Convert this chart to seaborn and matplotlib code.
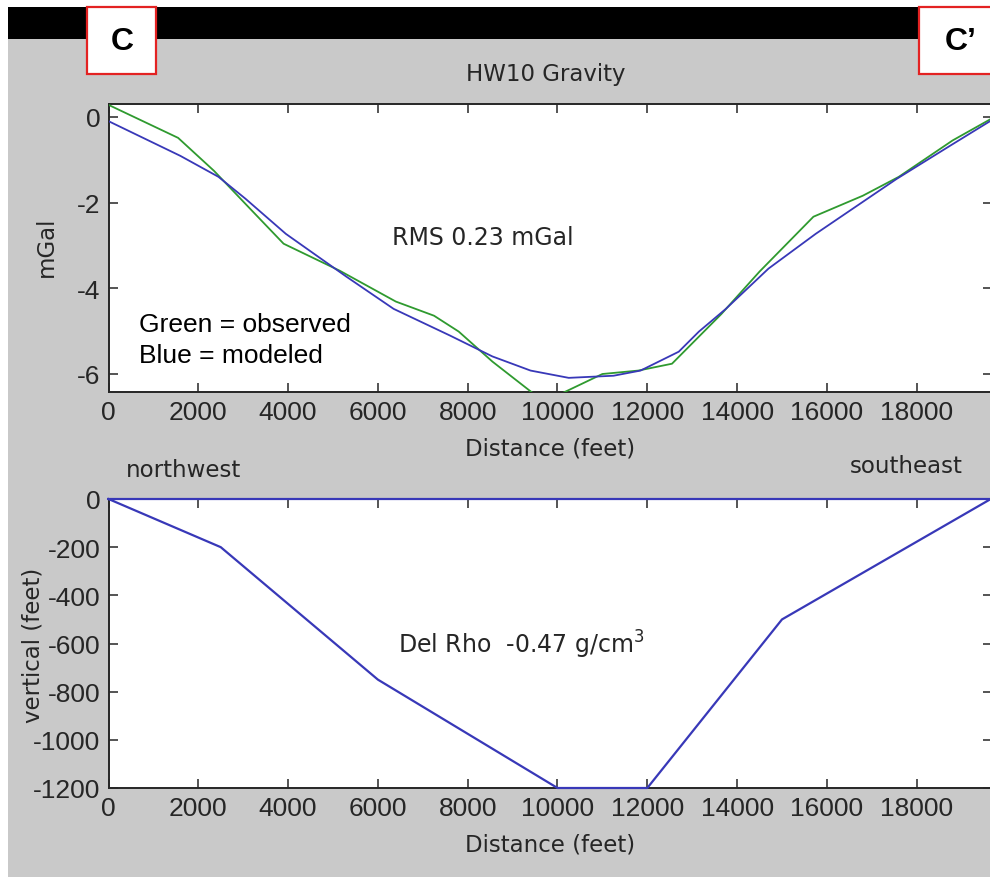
import matplotlib
matplotlib.use("Agg")
import matplotlib.pyplot as plt
from matplotlib.patches import Rectangle
import pandas as pd
import seaborn as sns

# ---- gravity profile along section C - C' ----
obs_dist = [0, 1550, 2350, 3150, 3900, 5150, 6400, 7250, 7800, 8550, 9700,
            11000, 11800, 12550, 13650, 14500, 15700, 16800, 17600, 18800, 19650]
obs_mgal = [0.28, -0.49, -1.26, -2.14, -2.96, -3.59, -4.31, -4.64, -5.01, -5.71, -6.65,
            -6.00, -5.92, -5.76, -4.60, -3.61, -2.33, -1.84, -1.40, -0.55, -0.05]

mod_dist = [0, 1600, 2450, 3050, 3950, 5300, 6350, 7600, 8550, 9400, 10250,
            11250, 11850, 12700, 13150, 13750, 14700, 15750, 17550, 18750, 19650]
mod_mgal = [-0.10, -0.91, -1.40, -1.91, -2.73, -3.73, -4.48, -5.10, -5.59, -5.92, -6.09,
            -6.04, -5.92, -5.48, -5.01, -4.48, -3.54, -2.73, -1.45, -0.67, -0.09]

# ---- model body outline (closed polygon) ----
body_dist = [0, 2500, 6000, 10000, 12000, 15000, 19650, 0]
body_depth = [0, -200, -750, -1200, -1200, -500, 0, 0]

dist_ticks = [0, 2000, 4000, 6000, 8000, 10000, 12000, 14000, 16000, 18000]
gravity_ticks = [0, -2, -4, -6]
depth_ticks = [0, -200, -400, -600, -800, -1000, -1200]

GREEN = "#2f9a2f"
BLUE = "#3838b8"
INK = "#262626"
ARIAL = ["Liberation Sans", "DejaVu Sans"]
LABEL_SIZE = 16.5

W, H = 990, 878
fig = plt.figure(figsize=(W / 100, H / 100), dpi=100, facecolor="white")


def fx(px):
    return px / W


def fy(py):
    return 1 - py / H


# window backdrop: grey panel with a black title strip
fig.add_artist(Rectangle((fx(8), 0), 1 - fx(8), fy(40), transform=fig.transFigure,
                         facecolor="#c9c9c9", edgecolor="none", zorder=-10))
fig.add_artist(Rectangle((fx(8), fy(40)), 1 - fx(8), fy(8) - fy(40), transform=fig.transFigure,
                         facecolor="black", edgecolor="none", zorder=-9))

# section end markers
for x0, x1, label, tx in [(87, 156, "C", 122), (919, 995, "C\u2019", 961)]:
    fig.add_artist(Rectangle((fx(x0), fy(75)), fx(x1) - fx(x0), fy(8) - fy(75),
                             transform=fig.transFigure, facecolor="white",
                             edgecolor="#e32222", linewidth=1.6, zorder=5))
    fig.text(fx(tx), fy(42), label, ha="center", va="center", fontsize=23,
             fontweight="bold", family=ARIAL, color="black", zorder=6)

AX_LEFT, AX_RIGHT = 108.5, 992
XMAX = (AX_RIGHT - AX_LEFT) / 44.9 * 1000

ax1 = fig.add_axes([fx(AX_LEFT), fy(393), fx(AX_RIGHT) - fx(AX_LEFT), fy(105) - fy(393)])
ax2 = fig.add_axes([fx(AX_LEFT), fy(789), fx(AX_RIGHT) - fx(AX_LEFT), fy(500) - fy(789)])

grav = pd.DataFrame({"dist": obs_dist, "mgal": obs_mgal})
model = pd.DataFrame({"dist": mod_dist, "mgal": mod_mgal})
body = pd.DataFrame({"dist": body_dist, "depth": body_depth})

sns.lineplot(data=grav, x="dist", y="mgal", sort=False, estimator=None,
             color=GREEN, linewidth=1.3, ax=ax1, legend=False, zorder=3)
sns.lineplot(data=model, x="dist", y="mgal", sort=False, estimator=None,
             color=BLUE, linewidth=1.3, ax=ax1, legend=False, zorder=3)
# the body outline lies on the axes frame along its top and floor: keep it unclipped
sns.lineplot(data=body, x="dist", y="depth", sort=False, estimator=None,
             color=BLUE, linewidth=1.6, ax=ax2, legend=False, zorder=3, clip_on=False)

ax1.set_xlim(0, XMAX)
ax1.set_ylim(-6.42, 0.30)
ax2.set_xlim(0, XMAX)
ax2.set_ylim(-1200, 0)

for ax, yt in [(ax1, gravity_ticks), (ax2, depth_ticks)]:
    ax.set_facecolor("white")
    ax.set_xticks(dist_ticks, labels=[str(t) for t in dist_ticks],
                  fontfamily=ARIAL, fontsize=19, color=INK)
    ax.set_yticks(yt, labels=[str(t) for t in yt],
                  fontfamily=ARIAL, fontsize=19, color=INK)
    ax.tick_params(direction="in", top=True, right=True, length=6.5, width=1.1,
                   color=INK, pad=6)
    for sp in ax.spines.values():
        sp.set_linewidth(1.4)
        sp.set_color(INK)
        sp.set_zorder(2.5)
    ax.set_xlabel("Distance (feet)", fontsize=LABEL_SIZE, color=INK)
    ax.xaxis.label.set_va("center")

ax1.xaxis.set_label_coords(0.5, (393 - 449) / 288)
ax2.xaxis.set_label_coords(0.5, (789 - 845) / 289)

ax1.set_ylabel("mGal", fontsize=LABEL_SIZE, color=INK, ha="center", va="center")
ax1.yaxis.set_label_coords((46 - AX_LEFT) / (AX_RIGHT - AX_LEFT), (393 - 247) / 288)
ax2.set_ylabel("vertical (feet)", fontsize=LABEL_SIZE, color=INK, ha="center", va="center")
ax2.yaxis.set_label_coords((33 - AX_LEFT) / (AX_RIGHT - AX_LEFT), (789 - 645) / 289)

# annotations
fig.text(fx(546), fy(75), "HW10 Gravity", ha="center", va="center",
         fontsize=LABEL_SIZE, color=INK)
ax1.text(8340, -2.8, "RMS 0.23 mGal", ha="center", va="center", fontsize=17, color=INK)
ax1.text(680, -4.99, "Green = observed", ha="left", va="baseline", fontsize=19,
         family=ARIAL, color="black")
ax1.text(680, -5.73, "Blue = modeled", ha="left", va="baseline", fontsize=19,
         family=ARIAL, color="black")
ax2.text(6450, -602, "Del Rho  -0.47 g/cm$^3$", ha="left", va="center",
         fontsize=17, color=INK)
fig.text(fx(183), fy(471), "northwest", ha="center", va="center", fontsize=LABEL_SIZE, color=INK)
fig.text(fx(906), fy(467), "southeast", ha="center", va="center", fontsize=LABEL_SIZE, color=INK)

fig.savefig("out.png", dpi=100, facecolor=fig.get_facecolor())
